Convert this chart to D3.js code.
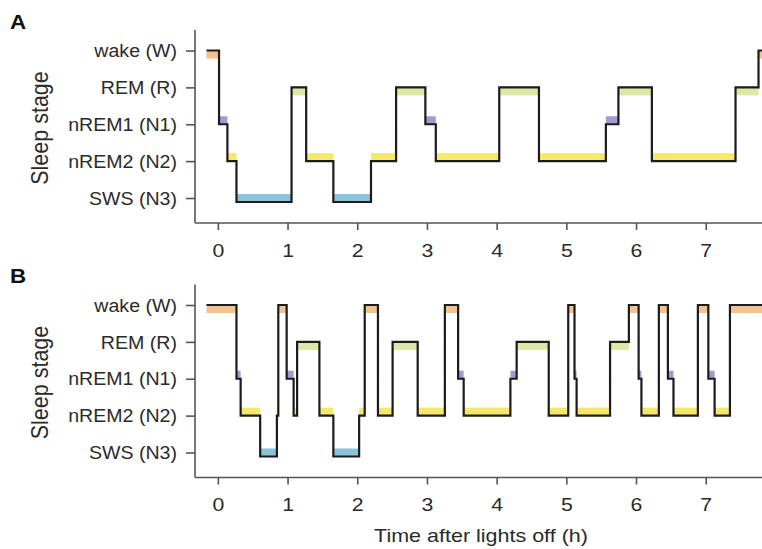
<!DOCTYPE html>
<html>
<head>
<meta charset="utf-8">
<script src="https://cdn.jsdelivr.net/npm/d3@7"></script>
<style>
  html, body { margin: 0; padding: 0; background: #fff; }
  svg { display: block; }
  text { font-family: "Liberation Sans", Arial, sans-serif; fill: #2a2a2a; }
</style>
</head>
<body>
<svg id="chart" width="762" height="549"></svg>
<script>
// ---- data ----
const stageNames = ["SWS (N3)", "nREM2 (N2)", "nREM1 (N1)", "REM (R)", "wake (W)"];
const stageCodes = ["N3", "N2", "N1", "R", "W"];
const xTicks = [0, 1, 2, 3, 4, 5, 6, 7];

// Panel A: stage per epoch and epoch boundaries (hours after lights off)
const stagesA = ["W","N1","N2","N3","R","N2","N3","N2","R","N1","N2","R","N2","N1","R","N2","R","W"];
const timesA  = [-0.17, 0.01, 0.13, 0.26, 1.05, 1.26, 1.65, 2.19, 2.55, 2.97, 3.12, 4.03, 4.60, 5.56, 5.74, 6.22, 7.42, 7.75, 7.80];

// Panel B
const stagesB = ["W","N1","N2","N3","N2","W","N1","N2","R","N2","N3","N2","W","N2","R","N2","W","N1","N2","N1","R","N2","W","N1","N2","R","W","N1","N2","W","N1","N2","W","N1","N2","W"];
const timesB  = [-0.17, 0.26, 0.32, 0.60, 0.84, 0.86, 0.98, 1.08, 1.13, 1.45, 1.65, 2.02, 2.10, 2.29, 2.50, 2.86, 3.25, 3.44, 3.52, 4.19, 4.28, 4.74, 5.02, 5.11, 5.14, 5.62, 5.89, 6.03, 6.07, 6.32, 6.45, 6.53, 6.88, 7.03, 7.12, 7.34, 7.80];

const stageColors = { W: "#f3c28f", R: "#d9e9a6", N1: "#a29ad2", N2: "#f6e86c", N3: "#8cc4dc" };

// ---- layout ----
const svg = d3.select("#chart");
const SX = 1.12; // horizontal text stretch seen in the reference
const left = 195, right = 762;
const x = d3.scaleLinear().domain([-0.335, 7.80]).range([left, right]);

function stretchedText(g, tx, ty, str, size, anchor, weight) {
  return g.append("text")
    .attr("transform", `translate(${tx},${ty}) scale(${SX},1)`)
    .attr("text-anchor", anchor || "start")
    .style("font-size", size + "px")
    .style("font-weight", weight || "normal")
    .text(str);
}

function panel(offY, stages, times, label) {
  const g = svg.append("g").attr("transform", `translate(0,${offY})`);
  const y = d3.scaleLinear().domain([0, 4]).range([198, 50.5]);
  const top = 30, bottom = 223;
  const lvl = s => stageCodes.indexOf(s);
  const lineY = s => y(lvl(s)) + (s === "N3" ? 4 : 0);

  // colour bands
  g.selectAll("rect.band").data(stages).join("rect")
    .attr("class", "band")
    .attr("x", (s, i) => x(times[i]))
    .attr("width", (s, i) => Math.max(0, x(times[i + 1]) - x(times[i])))
    .attr("y", s => (s === "W" || s === "R") ? lineY(s) : lineY(s) - 8)
    .attr("height", 8)
    .attr("fill", s => stageColors[s]);

  // hypnogram step line
  const pts = stages.map((s, i) => [times[i], s]);
  pts.push([times[times.length - 1], stages[stages.length - 1]]);
  const line = d3.line().x(d => x(d[0])).y(d => lineY(d[1])).curve(d3.curveStepAfter);
  g.append("path").datum(pts)
    .attr("d", line)
    .attr("fill", "none")
    .attr("stroke", "#1c1c1c")
    .attr("stroke-width", 2.2)
    .attr("stroke-linejoin", "miter");

  // y axis
  const yAx = g.append("g").attr("transform", `translate(${left},0)`)
    .call(d3.axisLeft(y).tickValues([0, 1, 2, 3, 4]).tickFormat(d => stageNames[d]).tickSize(9).tickSizeOuter(0).tickPadding(0));
  yAx.select(".domain").attr("d", `M0,${top}V${bottom}`);
  yAx.selectAll("text")
    .attr("x", -18 / SX)
    .attr("dy", "0.35em")
    .attr("transform", `scale(${SX},1)`)
    .style("font-size", "17.5px")
    .style("font-family", '"Liberation Sans", Arial, sans-serif')
    .attr("fill", "#2a2a2a");

  // x axis
  const xAx = g.append("g").attr("transform", `translate(0,${bottom})`)
    .call(d3.axisBottom(x).tickValues(xTicks).tickFormat(d3.format("d")).tickSize(7).tickSizeOuter(0).tickPadding(0));
  xAx.select(".domain").attr("d", `M${left},0H${right}`);
  xAx.selectAll("text")
    .attr("y", 34)
    .attr("dy", null)
    .attr("transform", `scale(${SX},1)`)
    .style("font-size", "19px")
    .style("font-family", '"Liberation Sans", Arial, sans-serif')
    .attr("fill", "#2a2a2a");
  xAx.selectAll(".tick").attr("transform", d => `translate(${x(d)},0)`);
  xAx.selectAll(".tick text").attr("x", 0);

  [yAx, xAx].forEach(a => {
    a.selectAll(".domain").attr("stroke", "#555").attr("stroke-width", 1.6);
    a.selectAll(".tick line").attr("stroke", "#555").attr("stroke-width", 1.6);
  });

  // y title
  g.append("text")
    .attr("transform", `translate(48,128) scale(${SX},1) rotate(-90)`)
    .attr("text-anchor", "middle")
    .style("font-size", "21.5px")
    .text("Sleep stage");

  // panel label
  stretchedText(g, 10, 28.5, label, 20, "start", "bold").style("fill", "#111");
  return g;
}

panel(0, stagesA, timesA, "A");
panel(254.5, stagesB, timesB, "B");

// x-axis title
stretchedText(svg, 481, 541.5, "Time after lights off (h)", 19.2, "middle");
</script>
</body>
</html>
